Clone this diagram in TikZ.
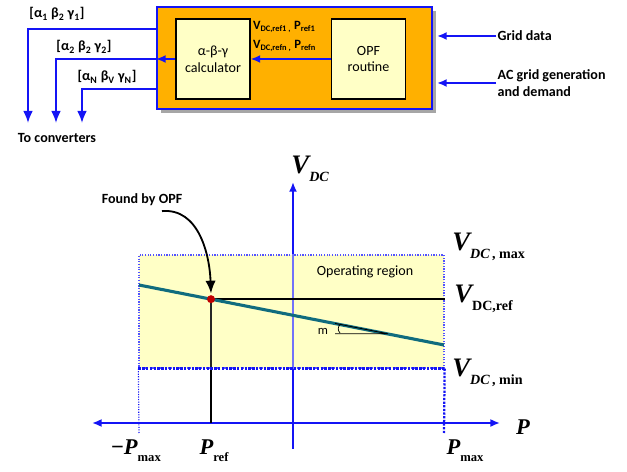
\documentclass[tikz,border=0pt]{standalone}
\usepackage{fontspec}
\setmainfont{Carlito}
\newfontfamily\tnr{Liberation Serif}
\usetikzlibrary{arrows.meta,positioning,calc,shadows}
\definecolor{opforange}{HTML}{FFB000}
\definecolor{boxyellow}{HTML}{FFFFC6}
\definecolor{linkblue}{HTML}{1414F5}
\definecolor{droopteal}{HTML}{106C7E}
\definecolor{dotred}{HTML}{C00000}
\definecolor{regionedge}{HTML}{5252FF}
\newcommand{\vdc}[1]{{\itshape V}\raisebox{-0.6ex}{\fontsize{10}{10}\selectfont #1}}
\newcommand{\pwr}[1]{{\itshape P}\raisebox{-0.65ex}{\fontsize{9}{9}\selectfont #1}}

\begin{document}
\begin{tikzpicture}[
  every node/.style={font=\normalsize,align=center,inner sep=2pt},
  ctrlbox/.style={draw=linkblue,fill=opforange,line width=1.3pt,minimum width=6.875cm,minimum height=2.55cm,
    drop shadow={shadow xshift=0.1cm,shadow yshift=-0.1cm,fill=black!35,opacity=1}},
  innerbox/.style={draw=black,fill=boxyellow,line width=0.9pt,minimum width=1.85cm,minimum height=2.0cm,inner sep=0pt},
  reflabel/.style={font=\small\bfseries,anchor=west,inner sep=0pt},
  sidelabel/.style={font=\bfseries,anchor=west,align=left,inner sep=1pt},
  veclabel/.style={font=\bfseries,inner sep=0pt},
  blueflow/.style={-{Latex[length=2.4mm,width=2mm]},draw=linkblue,line width=1.2pt},
  outflow/.style={-{Latex[length=3mm,width=2.4mm]},draw=linkblue,line width=1.2pt},
  axisline/.style={draw=linkblue,line width=1.3pt},
  region/.style={fill=boxyellow,draw=regionedge,densely dotted,line width=0.9pt,minimum width=7.625cm,minimum height=2.825cm,inner sep=0pt},
  limline/.style={draw=linkblue,densely dotted,line width=0.8pt},
  droop/.style={draw=droopteal,line width=2.2pt},
  callout/.style={-{Latex[length=3.2mm,width=2.6mm]},draw=black,line width=1.3pt},
  axlabel/.style={font=\tnr\bfseries\fontsize{19}{21}\selectfont,anchor=west,inner sep=0pt},
  plabel/.style={font=\tnr\bfseries\fontsize{16}{18}\selectfont,inner sep=0pt}
]
  \useasboundingbox (0,0) rectangle (15.675,11.775);
  % controller
  \node[ctrlbox] (ctrl) at (7.3625,10.325) {};
  \node[innerbox] (calc) at (5.325,10.3) {α-β-γ\\calculator};
  \node[innerbox] (opf) at (9.2125,10.3) {OPF\\routine};
  \node[reflabel] (ref1) at (6.32,11.1) {V\textsubscript{DC,ref1 ,} P\textsubscript{ref1}};
  \node[reflabel] (refn) at (6.32,10.625) {V\textsubscript{DC,refn ,} P\textsubscript{refn}};
  \draw[blueflow] (opf.west) -- (calc.east);
  \draw[blueflow] (calc.west) -- (calc.west -| ctrl.west);
  % outputs
  \coordinate (out1) at (3.925,11.05);
  \coordinate (out3) at (3.925,9.55);
  \coordinate (conv1) at (0.7,8.7);
  \coordinate (conv2) at (1.4,8.7);
  \coordinate (conv3) at (2.05,8.7);
  \draw[outflow] (out1) -| (conv1);
  \draw[outflow] (calc.west -| ctrl.west) -| (conv2);
  \draw[outflow] (out3) -| (conv3);
  \node[veclabel] (vec1) at (1.425,11.425) {[α\textsubscript{1} β\textsubscript{2} γ\textsubscript{1}]};
  \node[veclabel] (vec2) at (2.1,10.6) {[α\textsubscript{2} β\textsubscript{2} γ\textsubscript{2}]};
  \node[veclabel] (vec3) at (2.675,9.85) {[α\textsubscript{N} β\textsubscript{V} γ\textsubscript{N}]};
  \node[veclabel] (conv) at (1.425,8.325) {To converters};
  % inputs
  \node[sidelabel] (grid) at (12.4,10.875) {Grid data};
  \node[sidelabel] (acgen) at (12.4,9.7) {AC grid generation\\and demand};
  \draw[blueflow,shorten >=3pt] (grid.west) -- (grid.west -| ctrl.east);
  \draw[blueflow,shorten >=3pt] (acgen.west) -- (acgen.west -| ctrl.east);
  % droop characteristic
  \coordinate (org) at (7.325,1.2);
  \coordinate (pleft) at (2.3,1.2);
  \coordinate (pright) at (12.5,1.2);
  \coordinate (vbot) at (7.325,0.55);
  \coordinate (vtop) at (7.325,7.225);
  \coordinate (opt) at (5.275,4.296);
  \node[region] (opreg) at (7.2875,3.9875) {};
  \draw[axisline,line width=2pt,-{Latex[length=2.4mm,width=2mm]}] (org |- opreg.north) -- (vtop);
  \draw[draw=linkblue!60,line width=1pt] (org |- opreg.north) -- (org |- opreg.south);
  \draw[axisline,line width=1.6pt] (org |- opreg.south) -- (vbot);
  \draw[axisline,{Latex[length=2.4mm,width=2mm]}-{Latex[length=2.4mm,width=2mm]}] (pleft) -- (pright);
  \draw[black!85,line width=0.8pt] (opt) -- (opt |- opreg.south);
  \draw[black,line width=1.6pt] (opt |- opreg.south) -- (opt |- org);
  \coordinate (pminx) at (3.475,0.95);
  \coordinate (pmaxx) at (11.1,0.95);
  \draw[limline] (opreg.south west) -- (pminx);
  \draw[limline,line width=1.6pt] (opreg.south east) -- (pmaxx);
  \draw[limline,line width=1.7pt] (opreg.south west) -- (opreg.south east);
  \node (oplabel) at (9.125,4.975) {Operating region};
  \draw[black,line width=1pt] (opt) -- (opt -| opreg.east);
  \coordinate (dl) at (3.475,4.65);
  \coordinate (dr) at (11.1,3.15);
  \draw[droop] (dl) -- (dr);
  % slope
  \coordinate (sa) at (8.375,3.43);
  \coordinate (sb) at (9.7,3.43);
  \coordinate (sc) at (8.375,3.69);
  \draw[black,line width=0.6pt] (sa) -- (sb) -- (sc);
  \draw[black,line width=0.5pt] (8.5,3.66) to[bend right=45] (8.5,3.45);
  \node[font=\small,inner sep=0pt] (slope) at (8.075,3.5) {m};
  \node[circle,fill=dotred,minimum size=0.2cm,inner sep=0pt] (optdot) at (opt) {};
  \node[veclabel] (found) at (3.55,6.775) {Found by OPF};
  \draw[callout] ($(found.south)+(0.5,-0.12)$) to[out=5,in=92] ([yshift=1pt]optdot.north);
  % axis labels
  \node[axlabel] (vlab) at (7.28,7.55) {\vdc{\itshape DC}};
  \node[axlabel] (vmax) at (11.3,5.6) {\vdc{\textit{DC}\,, max}};
  \node[axlabel] (vref) at (11.35,4.3) {\vdc{DC,ref}};
  \node[axlabel] (vmin) at (11.3,2.45) {\vdc{\textit{DC}\,, min}};
  \node[plabel] (plab) at (13.075,1.1) {\itshape P};
  \node[plabel] (pmin) at (3.4,0.5) {−\pwr{max}};
  \node[plabel] (pref) at (5.35,0.5) {\pwr{ref}};
  \node[plabel] (pmax) at (11.625,0.5) {\pwr{max}};
\end{tikzpicture}
\end{document}
